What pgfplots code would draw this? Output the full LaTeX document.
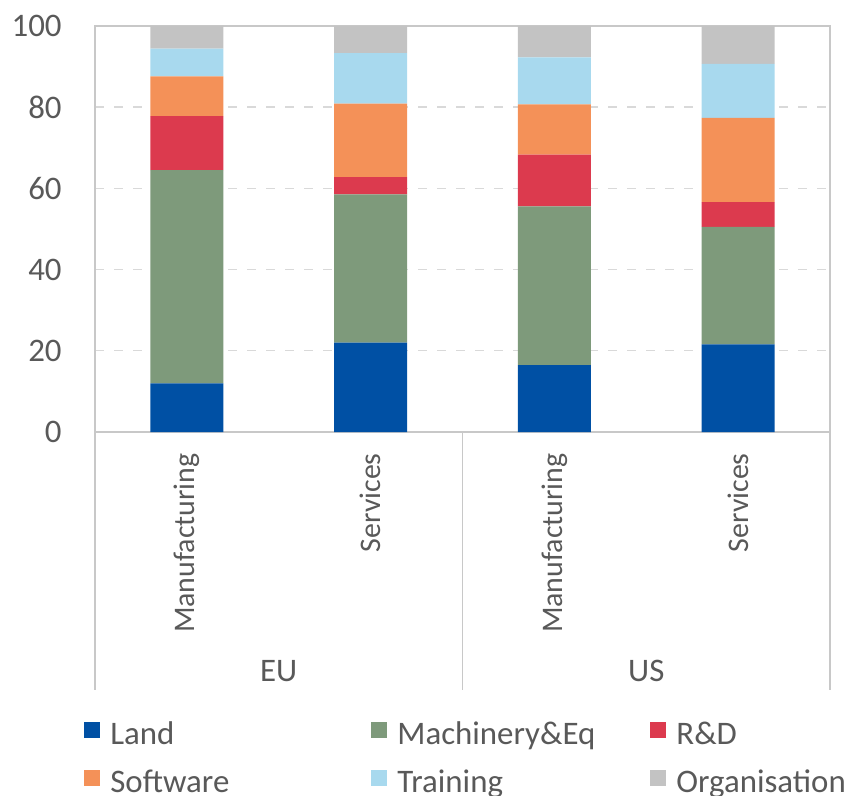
\documentclass[border=0pt]{standalone}
\usepackage{fontspec}
\setmainfont{Carlito}
\usepackage{pgfplots}
\pgfplotsset{compat=1.18}
\usepackage{pgfplotstable}

\definecolor{cLand}{HTML}{0050A4}
\definecolor{cMach}{HTML}{7E9A7B}
\definecolor{cRD}{HTML}{DC3A4E}
\definecolor{cSoft}{HTML}{F49158}
\definecolor{cTrain}{HTML}{A8D9EE}
\definecolor{cOrg}{HTML}{C3C3C3}
\definecolor{txt}{HTML}{595959}
\definecolor{framegray}{HTML}{C8C8C8}
\definecolor{gridgray}{HTML}{D9D9D9}

% Share of investment by asset type (percent), sector positions 0..3
\pgfplotstableread{
x Land Mach RD Soft Train Org
0 12.0 52.5 13.3 9.8 6.8 5.6
1 22.0 36.5 4.3 18.1 12.4 6.7
2 16.5 39.1 12.7 12.4 11.6 7.7
3 21.6 28.9 6.1 20.8 13.3 9.3
}\shares

\newcommand{\catfont}{\fontsize{15}{18}\selectfont}
\newcommand{\lblfont}{\fontsize{16.5}{19.5}\selectfont}

\begin{document}
\begin{tikzpicture}
\begin{axis}[
  at={(47.5bp,182bp)}, anchor=south west,
  scale only axis, width=367.5bp, height=203bp,
  ybar stacked, bar width=36.5bp,
  xmin=-0.5, xmax=3.5, ymin=0, ymax=100,
  xtick={0,1,2,3},
  xticklabels={Manufacturing,Services,Manufacturing,Services},
  ytick={0,20,...,100},
  major tick length=0pt, tick style={draw=none},
  axis line style={draw=framegray, line width=0.6bp},
  ymajorgrids,
  grid style={draw=gridgray, line width=0.7bp, dash pattern=on 4.5bp off 5bp},
  tick label style={text=txt},
  /pgf/number format/assume math mode=true,
  xticklabel style={font=\catfont, rotate=90, anchor=east, inner sep=0pt},
  xticklabel shift=10.5bp,
  yticklabel style={font=\lblfont, anchor=east, inner sep=0pt},
  yticklabel shift=16.5bp,
  clip=false,
  legend columns=3,
  legend style={at={(0,0)}, anchor=north west, xshift=-5.5bp, yshift=-144bp,
    draw=none, fill=none, inner sep=0pt, column sep=0pt, row sep=7.5bp,
    font=\lblfont, text=txt,
    nodes={inner sep=0pt, text height=12bp, text depth=4.5bp},
    cells={anchor=west}},
  legend image code/.code={
    \path[#1, draw=none] (0bp,-0.5bp) rectangle (8bp,7.5bp);
    \path (13bp,0bp);
  },
]
\addplot[fill=cLand, draw=none] table[x=x, y=Land]{\shares};
\addlegendentry{\makebox[130.5bp][l]{Land}}
\addplot[fill=cMach, draw=none] table[x=x, y=Mach]{\shares};
\addlegendentry{\makebox[126.5bp][l]{Machinery\&Eq}}
\addplot[fill=cRD, draw=none] table[x=x, y=RD]{\shares};
\addlegendentry{R\&D}
\addplot[fill=cSoft, draw=none] table[x=x, y=Soft]{\shares};
\addlegendentry{\makebox[130.5bp][l]{Software}}
\addplot[fill=cTrain, draw=none] table[x=x, y=Train]{\shares};
\addlegendentry{\makebox[126.5bp][l]{Training}}
\addplot[fill=cOrg, draw=none] table[x=x, y=Org]{\shares};
\addlegendentry{Organisation}

% group separators below the category axis
\draw[framegray, line width=0.6bp] (axis cs:-0.5,0) -- ++(0pt,-129bp);
\draw[framegray, line width=0.6bp] (axis cs:1.5,0) -- ++(0pt,-129bp);
\draw[framegray, line width=0.6bp] (axis cs:3.5,0) -- ++(0pt,-129bp);
\node[font=\lblfont, text=txt, inner sep=0pt] at (axis cs:0.5,0) [yshift=-119.5bp] {EU};
\node[font=\lblfont, text=txt, inner sep=0pt] at (axis cs:2.5,0) [yshift=-119.5bp] {US};
\end{axis}
\pgfresetboundingbox
\path[use as bounding box] (0,0) rectangle (428.5bp,398bp);
\end{tikzpicture}
\end{document}
